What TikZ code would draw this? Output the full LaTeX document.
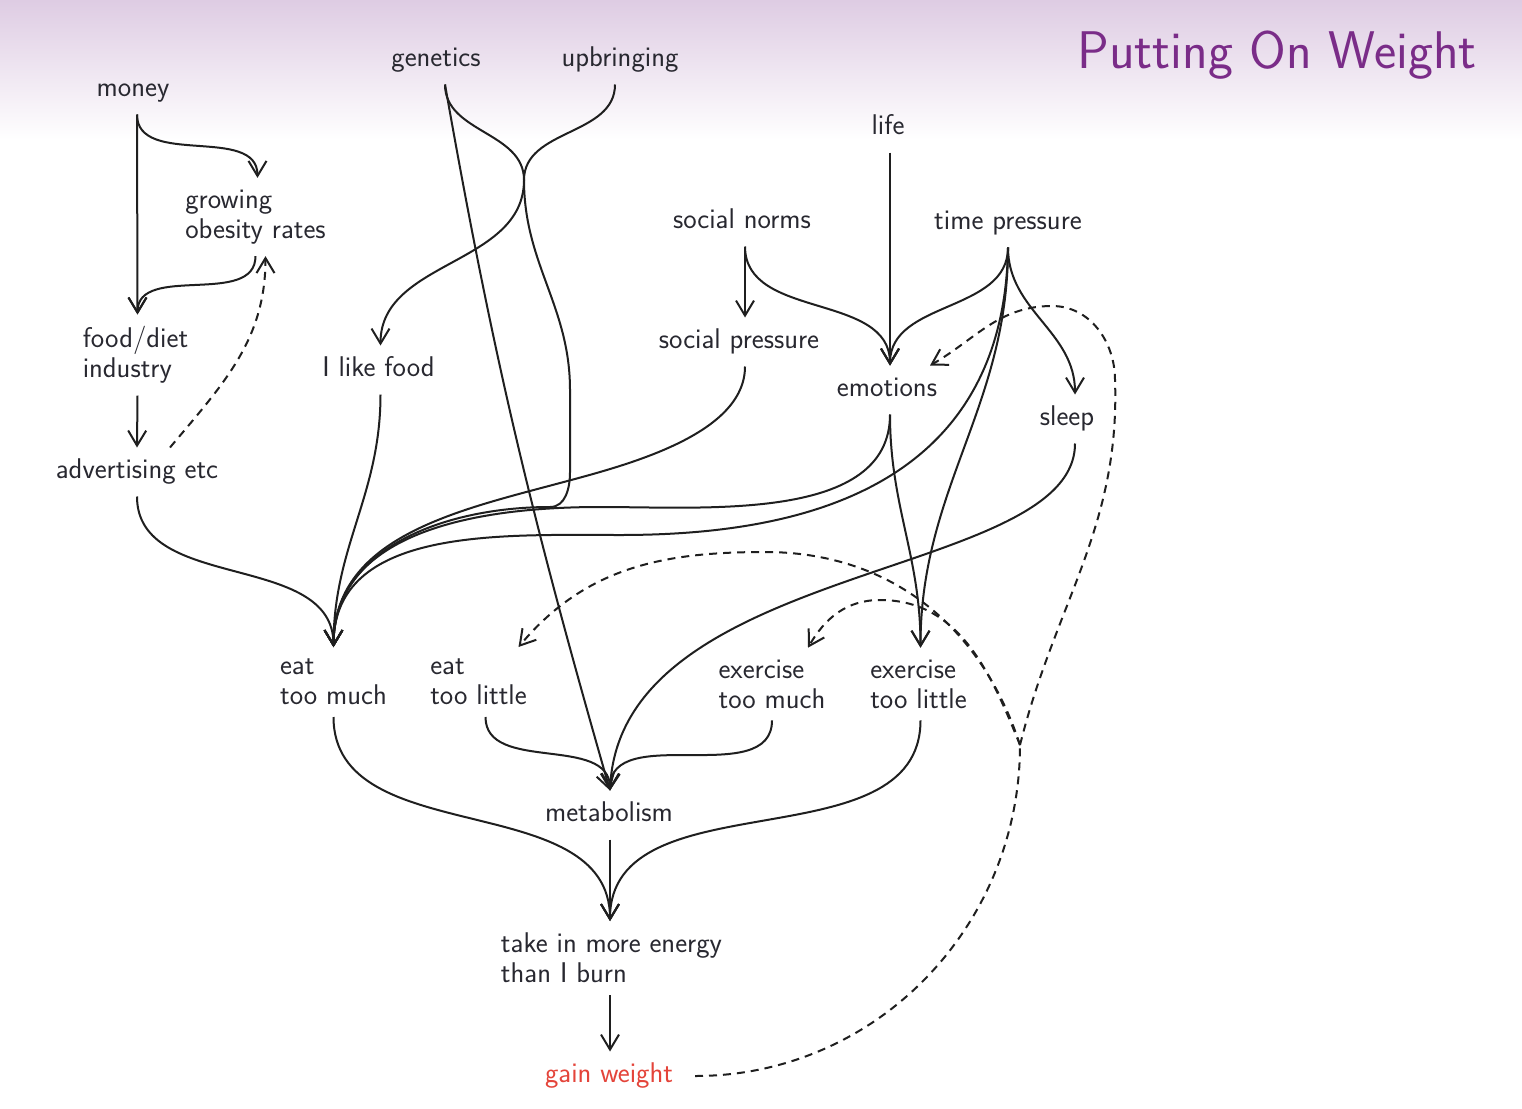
\documentclass[tikz,border=0pt]{standalone}
\usetikzlibrary{arrows.meta,calc}
\definecolor{txt}{RGB}{40,40,48}
\definecolor{ttl}{RGB}{122,44,136}
\definecolor{gainred}{RGB}{228,68,58}
\definecolor{bgtop}{RGB}{222,204,227}
\begin{document}
\begin{tikzpicture}[x=1pt,y=-1pt,
  lbl/.style={font=\sffamily\fontsize{28.5}{30}\selectfont, text=txt, inner sep=4pt, outer sep=8pt},
  lblone/.style={lbl, text height=19pt, text depth=6pt},
  lbltwo/.style={lbl, align=left},
  ln/.style={draw=black!88, line width=2pt},
  arr/.style={ln, -{Straight Barb[length=15pt,width=18pt]}},
  dsh/.style={arr, dash pattern=on 8pt off 6pt},
  dshl/.style={ln, dash pattern=on 8pt off 6pt},
]
\useasboundingbox (0,0) rectangle (1522,1108);
\fill[white] (0,0) rectangle (1522,1108);
\shade[top color=bgtop, bottom color=white] (0,0) rectangle (1522,140);

\node[font=\sffamily\fontsize{53}{58}\selectfont, text=ttl, anchor=base] (title) at (1277,68) {Putting On Weight};

% nodes
\node[lblone] (money) at (133,90) {money};
\node[lblone] (gen) at (436,60) {genetics};
\node[lblone] (up) at (620,60) {upbringing};
\node[lblone] (life) at (888,128) {life};
\node[lbltwo] (grow) at (255.5,217) {growing\\obesity rates};
\node[lblone] (socnorm) at (742,222) {social norms};
\node[lblone] (time) at (1008,223) {time pressure};
\node[lbltwo] (food) at (135.5,355) {food/diet\\industry};
\node[lblone] (like) at (378.5,370) {I like food};
\node[lblone] (socpress) at (739,342) {social pressure};
\node[lblone] (emo) at (887,390) {emotions};
\node[lblone] (sleep) at (1067,419) {sleep};
\node[lblone] (adv) at (137,472) {advertising etc};
\node[lbltwo] (etm) at (333.5,682) {eat\\too much};
\node[lbltwo] (etl) at (478.5,682) {eat\\too little};
\node[lbltwo] (exm) at (772,684) {exercise\\too much};
\node[lbltwo] (exl) at (918.5,684) {exercise\\too little};
\node[lblone] (met) at (609,815) {metabolism};
\node[lbltwo] (take) at (611.5,958) {take in more energy\\than I burn};
\node[lblone, text=gainred] (gain) at (609,1076) {gain weight};

\coordinate (J) at (524,180);
\coordinate (D) at (1020,745);

% money cluster
\draw[arr] ([xshift=4pt]money.south) to[out=-90,in=90] ([xshift=2pt]grow.north);
\draw[arr] ([xshift=4pt]money.south) -- ([xshift=2pt]food.north);
\draw[arr] (grow.south) to[out=-90,in=90] ([xshift=2pt]food.north);
\draw[arr] ([xshift=2pt]food.south) -- (adv.north);
\draw[dsh] ([xshift=33pt]adv.north) to[out=50,in=-90] ([xshift=10pt]grow.south);

% genetics / upbringing
\draw[ln] ([xshift=9pt]gen.south) to[out=-90,in=90] (J);
\draw[ln] ([xshift=-5pt]up.south) to[out=-90,in=90] (J);
\draw[arr] (J) to[out=-90,in=90] ([xshift=2pt]like.north);
\draw[arr] (J) to[out=-90,in=90] (570,390) -- (570,472) to[out=-90,in=0] (550,507) to[out=180,in=90] (etm.north);
\draw[arr] ([xshift=9pt]gen.south) to[out=-80,in=106] ([xshift=1pt]met.north);

% into eat too much
\draw[arr] (adv.south) to[out=-90,in=90] (etm.north);
\draw[arr] ([xshift=2pt]like.south) to[out=-90,in=90] (etm.north);
\draw[arr] ([xshift=6pt]socpress.south) to[out=-90,in=15,looseness=0.8] (560,483) to[out=195,in=90] (etm.north);
\draw[arr] ([xshift=3pt]emo.south) to[out=-90,in=0,looseness=0.9] (600,507) to[out=180,in=90] (etm.north);
\draw[arr] (time.south) .. controls (1004,500) and (780,535) .. (620,535) to[out=180,in=90] (etm.north);

% top right
\draw[arr] ([xshift=3pt]socnorm.south) -- ([xshift=6pt]socpress.north);
\draw[arr] ([xshift=3pt]socnorm.south) to[out=-90,in=90] ([xshift=3pt]emo.north);
\draw[arr] ([xshift=2pt]life.south) -- ([xshift=3pt]emo.north);
\draw[arr] (time.south) to[out=-90,in=90] ([xshift=3pt]emo.north);
\draw[arr] (time.south) to[out=-90,in=90] ([xshift=8pt]sleep.north);
\draw[arr] (time.south) to[out=-90,in=90] ([xshift=2pt]exl.north);
\draw[arr] ([xshift=3pt]emo.south) to[out=-90,in=90] ([xshift=2pt]exl.north);
\draw[arr] ([xshift=8pt]sleep.south) .. controls (1075,580) and (620,560) .. ([xshift=1pt]met.north);

% into metabolism / energy
\draw[arr] ([xshift=7pt]etl.south) to[out=-90,in=90] ([xshift=1pt]met.north);
\draw[arr] (exm.south) to[out=-90,in=90] ([xshift=1pt]met.north);
\draw[arr] (etm.south) to[out=-90,in=90] ([xshift=-1.5pt]take.north);
\draw[arr] ([xshift=2pt]exl.south) to[out=-90,in=90] ([xshift=-1.5pt]take.north);
\draw[arr] ([xshift=1pt]met.south) -- ([xshift=-1.5pt]take.north);
\draw[arr] ([xshift=-1.5pt]take.south) -- ([xshift=1pt]gain.north);

% dashed feedback
\draw[dshl] ([xshift=10pt]gain.east) to[out=0,in=-90] (D);
\draw[dsh] (D) to[out=76,in=-88] (1115,380) to[out=90,in=0] (1052,306) to[out=180,in=30] ([xshift=43pt]emo.north);
\draw[dsh] (D) to[out=108,in=0] (765,552) to[out=180,in=50] ([xshift=40pt]etl.north);
\draw[dsh] (D) to[out=112,in=0] (880,600) to[out=180,in=60] ([xshift=36pt]exm.north);
\end{tikzpicture}
\end{document}
